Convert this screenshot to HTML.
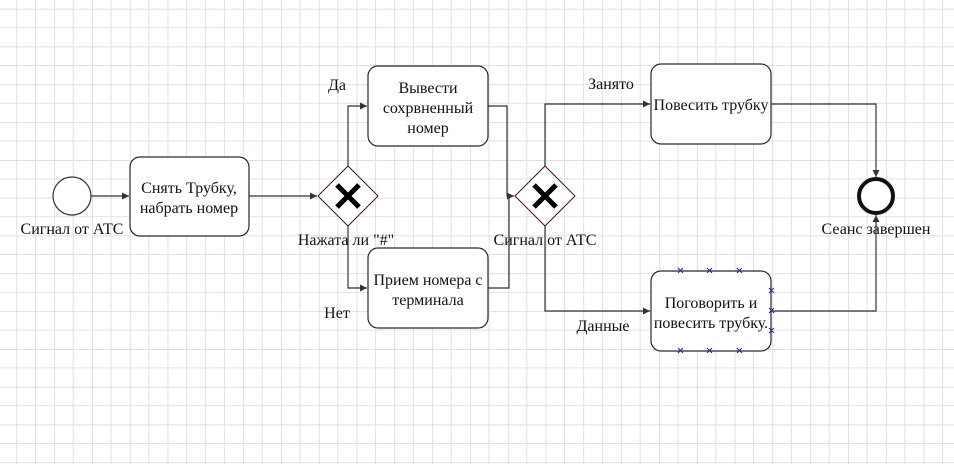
<!DOCTYPE html>
<html><head><meta charset="utf-8"><style>
html,body{margin:0;padding:0;background:#fff;}
svg{display:block;}
text{font-family:"Liberation Serif",serif;font-size:16px;fill:#111;}
</style></head><body>
<svg width="954" height="464" xmlns="http://www.w3.org/2000/svg">
<defs>
<pattern id="g" x="16.5" y="8.8" width="37.8" height="37.8" patternUnits="userSpaceOnUse">
<path d="M0 0V37.8M0 0H37.8" stroke="#cfcfcf" stroke-width="1.2" fill="none"/>
<path d="M18.9 0V37.8M0 18.9H37.8" stroke="#e2e2e2" stroke-width="1" fill="none"/>
</pattern>
<marker id="a" markerWidth="8" markerHeight="8" refX="7" refY="4" orient="auto" markerUnits="userSpaceOnUse">
<path d="M0 0.5L7 4L0 7.5z" fill="#333"/>
</marker>
</defs>
<rect width="954" height="464" fill="url(#g)"/>
<g fill="none" stroke="#333" stroke-width="1.2">
<path d="M91 196H129" marker-end="url(#a)"/>
<path d="M249 196H317" marker-end="url(#a)"/>
<path d="M348 166V106H367" marker-end="url(#a)"/>
<path d="M348 226V288H367" marker-end="url(#a)"/>
<path d="M488 106H507V196H514" marker-end="url(#a)"/>
<path d="M488 288H509V196"/>
<path d="M545 166V104H650" marker-end="url(#a)"/>
<path d="M545 226V311H650" marker-end="url(#a)"/>
<path d="M771 104H876V177" marker-end="url(#a)"/>
<path d="M771 311H876V215" marker-end="url(#a)"/>
</g>
<circle cx="72" cy="196" r="19" fill="#fff" stroke="#333" stroke-width="1.2"/>
<circle cx="876" cy="196" r="17" fill="#fff" stroke="#111" stroke-width="4"/>
<g fill="#fff" stroke="#1d2a38" stroke-width="1.2">
<rect x="130" y="157" width="119" height="79" rx="10"/>
<rect x="368" y="66" width="120" height="80" rx="10"/>
<rect x="368" y="248" width="120" height="80" rx="10"/>
<rect x="651" y="64" width="120" height="80" rx="10"/>
<rect x="651" y="271" width="120" height="80" rx="10"/>
</g>
<g fill="#fff" stroke="#4a1010" stroke-width="1">
<path d="M348 166L378 196L348 226L318 196z"/>
<path d="M545 166L575 196L545 226L515 196z"/>
</g>
<g stroke="#000" stroke-width="5">
<path d="M337 185L359 207M359 185L337 207"/>
<path d="M534 185L556 207M556 185L534 207"/>
</g>
<g stroke="#2a2a8a" stroke-width="1">
<path d="M678 268l5 5M683 268l-5 5M707 268l5 5M712 268l-5 5M737 268l5 5M742 268l-5 5"/>
<path d="M678 348l5 5M683 348l-5 5M707 348l5 5M712 348l-5 5M737 348l5 5M742 348l-5 5"/>
<path d="M769 288l5 5M774 288l-5 5M769 308l5 5M774 308l-5 5M769 328l5 5M774 328l-5 5"/>
</g>
<g text-anchor="middle">
<text x="72" y="234">Сигнал от АТС</text>
<text x="189" y="193">Снять Трубку,</text>
<text x="189" y="213">набрать номер</text>
<text x="428" y="93">Вывести</text>
<text x="428" y="113">сохрвненный</text>
<text x="428" y="133">номер</text>
<text x="428" y="285">Прием номера с</text>
<text x="428" y="305">терминала</text>
<text x="346" y="245">Нажата ли "#"</text>
<text x="545" y="245">Сигнал от АТС</text>
<text x="711" y="110">Повесить трубку</text>
<text x="711" y="308">Поговорить и</text>
<text x="711" y="328">повесить трубку.</text>
<text x="876" y="234">Сеанс завершен</text>
<text x="337" y="90">Да</text>
<text x="337" y="318">Нет</text>
<text x="611" y="89">Занято</text>
<text x="603" y="331">Данные</text>
</g>
</svg>
</body></html>
